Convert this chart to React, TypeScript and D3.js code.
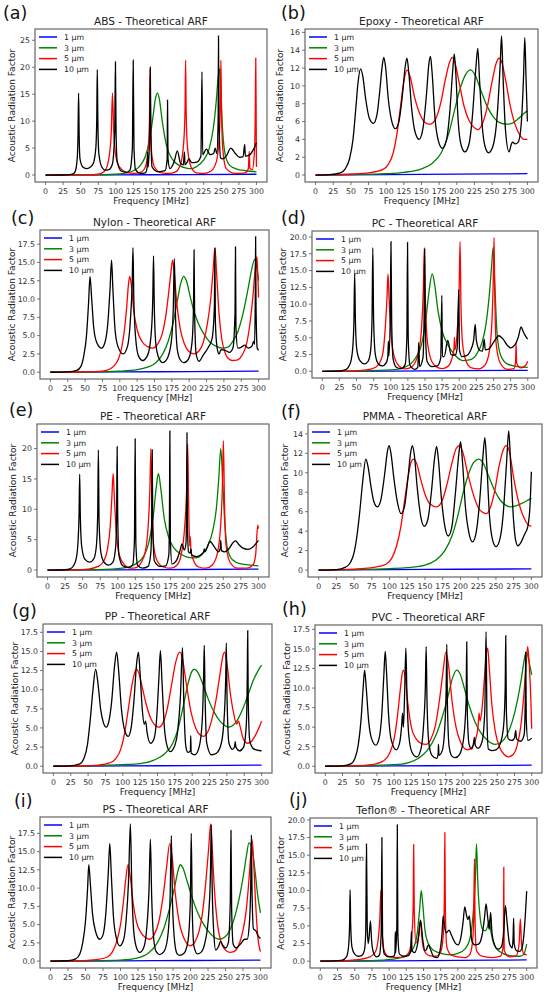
import React from "react";
import * as d3 from "d3";

// Shared ticks / legend
const xTicks = [0, 25, 50, 75, 100, 125, 150, 175, 200, 225, 250, 275, 300];
const seriesLabels = ["1 µm", "3 µm", "5 µm", "10 µm"];
const seriesColors = ["#0000ff", "#008000", "#ff0000", "#000000"];

const yTicksA = [0, 5, 10, 15, 20, 25];
const yTicksB = [0, 2, 4, 6, 8, 10, 12, 14, 16];
const yTicksC = [0, 2.5, 5, 7.5, 10, 12.5, 15, 17.5];
const yTicksD = [0, 2.5, 5, 7.5, 10, 12.5, 15, 17.5, 20];
const yTicksE = [0, 5, 10, 15, 20];
const yTicksF = [0, 2, 4, 6, 8, 10, 12, 14];

// (a) ABS  -- flat [freq, value, freq, value, ...]
const absBlue = [0, 0, 100, 0.03, 200, 0.08, 300, 0.15];
const absGreen = [0, 0, 80, 0.05, 100, 0.15, 115, 0.4, 125, 0.8, 135, 1.8, 142, 3.5, 148, 6.5, 153, 11, 156.5, 14.3, 159.4, 15.2, 162, 14, 166, 10, 172, 5.5, 180, 3, 190, 1.8, 200, 1.3, 208, 1.2, 215, 1.6, 225, 2.8, 233, 5, 239, 9, 243, 14, 245.8, 18.5, 247.5, 19.7, 249, 16, 252, 8, 256, 3.5, 262, 1.8, 272, 1.1, 285, 0.8, 300, 0.6];
const absRed = [0, 0, 60, 0.02, 75, 0.15, 83, 0.6, 88, 1.8, 91, 4, 93.5, 8, 95.2, 15.2, 97, 8, 100, 3.5, 105, 1.5, 115, 0.5, 125, 0.3, 135, 0.5, 142, 1.5, 146, 5, 147.8, 10, 148.6, 19.7, 149.4, 10, 151, 4, 155, 1.5, 165, 0.4, 175, 0.3, 185, 0.6, 192, 2, 196.5, 6, 198.4, 12, 199.2, 21.3, 200, 12, 202, 5, 207, 1.5, 215, 0.4, 225, 0.3, 235, 0.7, 243, 2.5, 247, 7, 248.6, 13, 249.4, 21.3, 250.2, 13, 252, 5, 257, 1.2, 270, 0.3, 284, 0.4, 288.5, 1.2, 289.7, 4.4, 290.7, 1.2, 294, 1, 297, 4, 298.2, 10, 299, 21.7, 299.7, 8, 300, 1.5];
const absBlack = [0, 0, 30, 0.02, 38, 0.15, 42, 0.6, 45, 3, 46.2, 7.5, 47, 15.2, 47.8, 7.5, 49, 3, 53, 1.5, 58, 1.2, 63, 1.4, 68, 2.2, 71.5, 5, 72.8, 10, 73.6, 19.6, 74.4, 10, 75.8, 4, 80, 1.5, 85, 0.9, 90, 1, 95, 2, 98.4, 8, 99.4, 21, 100.3, 8, 102, 2.5, 108, 0.7, 115, 0.5, 120, 0.9, 123.5, 5, 124.7, 21.3, 125.8, 5, 128, 1, 135, 0.3, 142, 0.4, 144.6, 1.5, 145.3, 4.2, 146, 1.5, 148.2, 8, 149, 20, 149.8, 8, 151.5, 1.5, 160, 0.6, 170, 0.8, 173, 3, 173.5, 13.9, 174.2, 3, 177, 1.2, 183, 2.5, 187.5, 4.5, 192, 2.2, 196, 1.9, 197.6, 4.3, 198.3, 1.9, 201, 2.3, 204, 3.0, 208, 2.3, 215, 2.4, 221, 3.5, 222.5, 19.2, 223.5, 3.8, 228.8, 4.8, 234, 3.8, 239, 4, 241.4, 5, 243.5, 4, 245.5, 10, 246, 25.8, 246.7, 10, 249, 3.2, 252, 3, 257, 3.5, 263.4, 5.0, 270, 4.0, 276, 3.3, 281, 3.4, 283.3, 5.7, 284.2, 3.5, 290, 3.7, 296, 4.8, 300, 6.0];

// (b) Epoxy
const epoxyBlue = [0, 0, 100, 0.05, 200, 0.1, 300, 0.15];
const epoxyGreen = [0, 0, 50, 0.05, 100, 0.15, 125, 0.3, 150, 0.7, 165, 1.3, 178, 2.5, 188, 4.5, 196, 7, 204, 9.5, 212, 11.2, 219.4, 11.8, 226, 11.2, 234, 9.5, 243, 7.7, 252, 6.5, 260, 5.9, 270, 5.7, 278, 5.8, 287, 6.3, 295, 6.9, 300, 7.2];
const epoxyRed = [0, 0, 25, 0.05, 50, 0.12, 75, 0.25, 95, 0.6, 103, 1.2, 110, 2.5, 115, 4.5, 120, 7.5, 125, 10.5, 129.4, 11.8, 134, 11, 140, 8.8, 148, 6.8, 155, 5.9, 162, 5.7, 170, 6.3, 177, 8, 184, 10.8, 190, 12.7, 193.6, 13.2, 197, 12.7, 203, 10.5, 210, 7.8, 218, 6, 225, 5.3, 229.7, 5.1, 236, 5.7, 243, 7.6, 250, 10.5, 256, 12.6, 260, 13.1, 264, 12.6, 267, 11.5, 268.6, 10.9, 270, 10.3, 275, 8, 282, 5.8, 290, 4.4, 295, 4.0, 300, 4.0];
const epoxyBlack = [0, 0, 20, 0.05, 35, 0.25, 42, 0.7, 48, 1.8, 53, 4, 57, 7.5, 60, 10.3, 63.8, 11.9, 67, 11, 71, 8.5, 76, 6.4, 82, 5.8, 87, 6.8, 91, 9.5, 94, 12, 96.6, 13.2, 99, 12.2, 103, 8.5, 108, 6, 113, 5.2, 118, 6, 123, 9, 127, 12.2, 129.4, 13.1, 132, 11.5, 136, 7.5, 141, 4.8, 146.7, 4.0, 152, 5.2, 157, 9, 160.5, 12.5, 162.7, 13.3, 165, 11.5, 169, 6.5, 174, 3.8, 179.5, 3.0, 185, 3.8, 190, 7, 194, 11.5, 196.4, 13.6, 198.5, 11.5, 202, 6, 206, 3.4, 211.4, 2.6, 217, 3.4, 222, 6.5, 227, 12, 229.7, 14.2, 232, 11, 236, 5.5, 240, 3.2, 245, 2.5, 251, 3.2, 257, 6.5, 261.5, 12.5, 263.4, 15.6, 265.5, 11, 269, 5, 274, 2.6, 277, 3.4, 279, 3.7, 282.7, 3.5, 287, 3.7, 291, 5.5, 294.5, 11, 296.3, 15.4, 298, 11, 300, 6];

// (c) Nylon
const nylonBlue = [0, 0, 100, 0.04, 200, 0.09, 300, 0.15];
const nylonGreen = [0, 0, 50, 0.03, 100, 0.15, 125, 0.35, 140, 0.7, 152, 1.3, 162, 2.5, 170, 4.3, 177, 6.8, 183, 9.8, 188, 12.2, 191.9, 13.1, 196, 12.5, 201, 10.5, 207, 8.3, 214, 6.5, 222, 5.1, 230, 4.1, 240, 3.5, 248, 3.3, 255, 3.4, 262, 4.1, 270, 5.5, 278, 8.2, 285, 11.5, 290, 14, 294.3, 15.4, 297, 14.5, 300, 12.5];
const nylonRed = [0, 0, 40, 0.03, 60, 0.08, 75, 0.15, 85, 0.4, 92, 0.9, 98, 1.8, 103, 3.5, 107, 6, 110, 9, 112.5, 12, 114.3, 13.1, 116.5, 12, 120, 8.5, 125, 5.8, 132, 4.2, 140, 3.5, 147.6, 3.3, 155, 3.9, 161, 5.2, 166, 7.5, 170, 10.5, 173.5, 13.5, 176, 15.3, 178.5, 13.5, 182, 9.5, 187, 6, 193, 3.9, 200, 2.8, 207, 2.5, 214, 2.9, 220, 4, 226, 6.5, 231, 10, 234.5, 14, 237.1, 17, 239.5, 13.5, 243, 8, 247, 4.5, 252, 2.6, 256, 1.9, 262, 1.6, 270, 1.7, 276, 2.3, 283, 4, 288, 7, 292, 10.5, 295, 14, 297.6, 15.8, 299, 13, 300, 10.2];
const nylonBlack = [0, 0, 25, 0.05, 38, 0.25, 44, 0.8, 48, 2.2, 52, 5, 55, 9.5, 57.1, 13.1, 59.5, 10, 62.5, 6, 67, 4, 73.8, 3.3, 79, 4.2, 83, 7, 86, 11.5, 88.1, 15.3, 90, 11.5, 93, 6, 97, 3.6, 104.8, 2.5, 111, 3.5, 115.5, 7.5, 117.8, 12, 119, 17, 120.2, 10, 123, 4.5, 127, 2.2, 133, 1.6, 140, 2.3, 145, 5, 147.5, 10, 148.6, 15.9, 149.7, 9, 152, 3.8, 156, 2, 162, 1.3, 168, 1.8, 174, 4, 177, 8.5, 178.6, 15.5, 180.2, 8, 183, 3, 187, 1.7, 192, 1.3, 199, 1.8, 204, 4, 206.2, 9, 207, 16.7, 207.8, 8, 210, 2.5, 214, 1.5, 220, 2.3, 227, 3.3, 233, 4.6, 236.3, 9, 237, 16.9, 237.7, 7, 240, 3.5, 243, 2.5, 246, 3.1, 252, 3, 258, 2.7, 263, 3.3, 266, 8, 266.7, 17.1, 267.4, 6, 270, 3.3, 275, 3.4, 280, 3.7, 285, 3.3, 290, 3.5, 292.9, 4.2, 294.2, 3.8, 295.2, 10, 295.7, 18.5, 296.3, 9, 298, 3.3, 300, 3.0];

// (d) PC
const pcBlue = [0, 0, 100, 0.04, 200, 0.09, 300, 0.15];
const pcGreen = [0, 0, 60, 0.05, 100, 0.2, 120, 0.6, 135, 1.8, 145, 4, 151, 7.5, 156, 12, 160.6, 14.5, 164, 13, 169, 9, 175, 6, 183, 4, 193, 2.5, 205, 1.6, 215, 1.7, 225, 2.5, 233, 4.2, 239, 7, 244, 11.5, 247.5, 16, 249.4, 18.4, 251.5, 14, 255, 6, 260, 2.5, 270, 1.1, 285, 0.7, 300, 0.6];
const pcRed = [0, 0, 40, 0.03, 65, 0.2, 78, 0.6, 85, 1.5, 89, 3, 92, 6.5, 94.5, 11, 96, 14.5, 97.5, 11, 100.5, 5.5, 105, 2.2, 112, 0.8, 120, 0.35, 128, 0.5, 135, 1.2, 141, 3, 145, 6.5, 147.5, 12, 149, 18.4, 150.5, 11, 153, 5, 158, 2, 166, 0.7, 175, 0.4, 183, 0.7, 189, 1.8, 192.4, 3.5, 193, 5.1, 193.8, 3.2, 197, 6, 199.8, 12, 201.2, 19.3, 202.5, 10, 205, 4, 210, 1.5, 218, 0.5, 228, 0.35, 238, 1, 244, 3, 248, 8, 249.8, 14, 250.8, 19.9, 251.8, 12, 254, 4, 260, 1.2, 270, 0.3, 280, 0.4, 282.3, 1.5, 283, 4.2, 283.8, 1.2, 290, 0.5, 297, 0.9, 300, 1.5];
const pcBlack = [0, 0, 25, 0.05, 33, 0.2, 38, 0.6, 42, 1.6, 44.5, 3.5, 46.2, 7.5, 47.3, 14.5, 48.4, 7.5, 50.5, 3.2, 55, 1.6, 61.8, 1.1, 67, 1.5, 70.5, 3, 72.6, 7.5, 73.8, 18.4, 75, 7.5, 77.5, 2.5, 82, 1.1, 88, 0.8, 94, 1.4, 95.8, 2.3, 96.5, 4.5, 97.2, 2.3, 99.2, 7.5, 100.3, 19.3, 101.4, 7, 103.5, 1.8, 108, 0.6, 115, 0.4, 121, 1, 123.5, 5, 124.5, 19.2, 125.5, 5, 128, 0.9, 135, 0.3, 139.5, 0.6, 140.9, 4.3, 142, 0.7, 147, 2, 148.7, 8, 149.5, 18.2, 150.4, 7, 153, 1.5, 160, 0.7, 168, 0.8, 173, 2, 174.6, 11.3, 175.4, 2.2, 178, 2.2, 183.3, 4.6, 188, 2.5, 194, 2.4, 197, 3.5, 199.3, 12.2, 200.3, 3.2, 204, 2.2, 210, 2.3, 216, 3, 221, 4.6, 223.3, 7.0, 225, 4.6, 230, 3.1, 234, 3, 236.4, 4.8, 238, 3.2, 243, 3.3, 250, 4.3, 258, 5.3, 264, 4.8, 270, 3.9, 275, 3.5, 281, 3.9, 286, 5, 290.4, 6.6, 293, 6, 297, 5.2, 300, 4.8];

// (e) PE
const peBlue = [0, 0, 100, 0.04, 200, 0.09, 300, 0.15];
const peGreen = [0, 0, 60, 0.05, 100, 0.25, 120, 0.7, 135, 2, 144, 4.5, 150, 8.5, 154.5, 13.5, 157.7, 15.9, 161, 13.5, 166, 8.5, 172, 5.5, 180, 3.6, 190, 2.6, 200, 2.1, 210, 2.0, 220, 2.6, 228, 4, 235, 6.5, 240, 10, 243.5, 15, 246.4, 20, 249, 15, 252, 8, 256, 3.5, 263, 1.7, 275, 1, 290, 0.8, 300, 0.7];
const peRed = [0, 0, 40, 0.03, 60, 0.2, 72, 0.6, 80, 1.5, 85, 3.3, 89, 7, 91.5, 12, 93.3, 15.9, 95, 12, 98, 6, 102, 2.5, 110, 0.8, 118, 0.3, 126, 0.4, 133, 1.2, 139, 3, 143, 7, 145.5, 13, 147, 20, 148.5, 11, 151, 4, 156, 1.5, 165, 0.5, 175, 0.3, 184, 0.8, 190, 2.5, 195, 7, 197.8, 13, 199.3, 20.8, 200.8, 10, 202.2, 4, 203, 5.5, 204, 3, 208, 1.5, 215, 0.5, 225, 0.3, 234, 0.8, 241, 2.5, 246, 7, 248.5, 13, 250.1, 21.3, 251.7, 11, 254, 4, 260, 1.2, 270, 0.3, 283, 0.3, 292, 0.8, 296, 2.5, 299, 7.4, 300, 6.8];
const peBlack = [0, 0, 25, 0.05, 32, 0.2, 37, 0.7, 41, 2, 43.5, 5, 44.8, 9, 45.7, 15.8, 46.6, 9, 48.5, 4, 53, 1.8, 60, 1.3, 66, 1.9, 69.5, 4, 71.3, 9, 72.3, 19.8, 73.3, 8, 76, 2.8, 81, 1.2, 87, 0.8, 93, 1.3, 97, 4, 98.3, 10, 99, 20.3, 99.8, 9, 101.5, 2.5, 107, 0.7, 115, 0.4, 121, 0.8, 123.6, 5, 124.6, 21.6, 125.6, 4.5, 128, 0.8, 135, 0.3, 143, 0.6, 147, 3, 148.2, 9, 148.9, 19.8, 149.6, 8, 152, 1.5, 160, 0.6, 168, 0.7, 172.5, 2.5, 173.4, 9, 174, 22.9, 174.7, 5, 177, 1, 183, 1.5, 188, 3, 191.3, 4.3, 194.5, 3.3, 197, 4.5, 197.8, 12, 198.3, 22.6, 198.9, 8, 200.5, 3, 203, 2.8, 204, 3.5, 205, 2.5, 212, 2.2, 218, 2.5, 222, 3, 223, 3.5, 224, 3, 231, 4.7, 238, 3.7, 243, 3, 245.6, 3.5, 246.4, 4.9, 247.3, 3.2, 252, 3, 258, 3.5, 263, 4.4, 267.4, 4.8, 272, 4.2, 278, 3.6, 285, 3.4, 292, 3.8, 300, 4.9];

// (f) PMMA
const pmmaBlue = [0, 0, 100, 0.04, 200, 0.08, 300, 0.12];
const pmmaGreen = [0, 0, 50, 0.05, 100, 0.15, 125, 0.25, 150, 0.5, 165, 1.0, 178, 2, 188, 3.5, 196, 5.5, 204, 8, 212, 10, 219, 11.1, 225.9, 11.4, 232, 11, 240, 9.6, 248, 8.2, 256, 7.2, 263, 6.7, 270, 6.5, 278, 6.6, 285, 6.8, 293, 7.1, 300, 7.4];
const pmmaRed = [0, 0, 30, 0.05, 60, 0.15, 80, 0.3, 95, 0.6, 103, 1.2, 110, 2.5, 116, 4.5, 121, 7, 126, 9.5, 130, 11, 133.6, 11.4, 138, 11, 144, 9.3, 150, 7.8, 157, 6.8, 166.4, 6.5, 174, 7.1, 181, 8.8, 188, 11, 194, 12.5, 198.3, 12.8, 203, 12.2, 210, 10, 218, 7.8, 226, 6.3, 232, 5.9, 236.7, 5.8, 242, 6.4, 248, 8, 254, 10.5, 260, 12.3, 264.8, 12.8, 269, 12.2, 275, 9.5, 282, 7, 290, 5.3, 295, 4.7, 300, 4.5];
const pmmaBlack = [0, 0, 25, 0.05, 38, 0.3, 45, 0.8, 50, 1.8, 54, 3.5, 58, 6, 62, 9, 66.6, 11.4, 70, 10.5, 74, 8.5, 78, 7, 83, 6.5, 88, 7.3, 93, 9.8, 97, 12.2, 99.4, 12.8, 102, 12, 106, 9.5, 111, 7, 116.3, 5.8, 121, 6.5, 126, 9.5, 130, 12.2, 132.2, 12.8, 135, 11.8, 139, 8.5, 144, 5.5, 149, 4.5, 154, 5.2, 159, 8, 163.5, 11.5, 166.4, 12.7, 169, 11.3, 173, 7.5, 178, 4.5, 182.8, 3.5, 188, 4.5, 193, 8, 197.5, 11.8, 200.2, 13.2, 203, 11, 207, 6.5, 212, 3.8, 217, 2.9, 222, 3.8, 227, 7, 231.5, 11.5, 234.4, 13.6, 237, 11, 241, 5.5, 245, 3.2, 250, 2.4, 255, 3, 260, 5.5, 265, 11, 268.1, 14.3, 271, 10.5, 275, 5, 278, 3, 281, 2.5, 285, 2.8, 290, 3.6, 295, 4.5, 298, 6.5, 300, 10.1];

// (g) PP
const ppBlue = [0, 0, 100, 0.04, 200, 0.09, 300, 0.14];
const ppGreen = [0, 0, 50, 0.05, 100, 0.2, 125, 0.35, 145, 0.8, 160, 1.6, 172, 3, 180, 5, 187, 7.8, 194, 10.8, 199, 12.3, 203.2, 12.7, 208, 12.3, 215, 10.8, 223, 8.8, 232, 7, 240, 5.9, 246, 5.4, 251.6, 5.1, 258, 5.3, 265, 6, 272, 7.3, 280, 9.2, 288, 11.2, 295, 12.5, 300, 13.2];
const ppRed = [0, 0, 40, 0.03, 65, 0.15, 80, 0.4, 90, 1.0, 97, 2.2, 103, 4.5, 108, 7.5, 113, 10.5, 117, 12.2, 119.6, 12.7, 123, 12.2, 128, 10.3, 134, 8, 140, 6.3, 146, 5.4, 151.9, 5.1, 158, 5.7, 164, 7.5, 170, 10.5, 176, 13.5, 180, 14.7, 182.8, 14.9, 186, 14, 192, 10.5, 198, 7.2, 205, 5, 211, 4.1, 216, 3.9, 222, 4.4, 228, 6, 234, 8.5, 240, 12, 244, 14.3, 246.8, 14.9, 250, 13.5, 255, 9.5, 260, 6.8, 264, 5.5, 266.8, 5.9, 269, 5.2, 274, 3.5, 280, 3.0, 286, 3.3, 292, 4.2, 297, 5.2, 300, 5.9];
const ppBlack = [0, 0, 25, 0.05, 38, 0.3, 44, 1, 49, 2.8, 53, 6, 57, 10, 60.8, 12.7, 64, 11, 68, 7.5, 72, 5.7, 76, 5.1, 80, 5.9, 84, 8.5, 88, 13, 91.1, 14.9, 94, 12.5, 98, 7.5, 103, 4.6, 107.7, 3.9, 112, 5, 116, 8.5, 120, 13.5, 122.5, 14.9, 125, 12, 128, 7.5, 131, 5.5, 132.9, 5.9, 135, 4.4, 140, 3.0, 145, 3.6, 149, 6.5, 152, 11.5, 154.2, 15.1, 156.5, 11, 160, 5, 164, 2.6, 168.5, 1.9, 174, 2.5, 179, 4.5, 183, 9, 186, 15.5, 188, 8, 191, 2.5, 194, 1.8, 197.4, 2, 197.9, 4.0, 198.5, 1.7, 204, 1.5, 210, 2.5, 214.5, 6, 216.5, 12, 217.4, 15.8, 218.4, 10, 221, 3, 227.8, 1.5, 235, 1.7, 242, 3, 246.5, 7, 248.4, 12, 249.2, 16.1, 250.2, 9, 253, 3, 258, 2.2, 261, 2.5, 262, 3.2, 263, 2.5, 268, 2.0, 274, 2.5, 278, 5.5, 279.4, 12, 280, 17.7, 280.7, 9, 283, 3.3, 288, 2.3, 294, 2.1, 300, 2.0];

// (h) PVC
const pvcBlue = [0, 0, 100, 0.04, 200, 0.09, 300, 0.14];
const pvcGreen = [0, 0, 50, 0.05, 100, 0.2, 120, 0.45, 135, 1, 148, 2, 160, 3.8, 170, 6.3, 178, 8.8, 185, 11.3, 191.1, 12.3, 196, 11.8, 202, 10, 209, 7.8, 217, 5.8, 226, 4.3, 236, 3.3, 246.8, 2.8, 256, 3.1, 264, 4, 272, 5.8, 279, 8.3, 285, 11.2, 289, 13.5, 291.8, 14.6, 294, 14.3, 297, 13, 300, 11.7];
const pvcRed = [0, 0, 40, 0.05, 70, 0.25, 85, 0.7, 93, 1.6, 100, 3.5, 105, 6.5, 109, 9.8, 111.5, 11.7, 113.7, 12.3, 116, 11.5, 120, 8, 125, 5, 132, 3.5, 140, 2.9, 146.6, 2.8, 153, 3.4, 160, 5.2, 166, 8.5, 171, 12, 175.2, 14.6, 179, 13, 184, 8.5, 190, 5, 197, 3, 206.6, 2.1, 214, 2.5, 219, 3.6, 222, 5, 223.5, 6.8, 225, 5.8, 228, 7.5, 231.5, 11.5, 234, 14.3, 236.1, 15.1, 238, 13, 242, 8, 247, 4.5, 254, 2.3, 260, 1.5, 266, 1.2, 273, 1.5, 279, 2.7, 284, 5, 288, 8.5, 291.5, 12.5, 294.2, 15.3, 296.5, 13, 299, 8, 300, 4.8];
const pvcBlack = [0, 0, 25, 0.05, 37, 0.3, 43, 1, 48, 2.8, 52, 6, 55, 10, 57.1, 12.3, 59.5, 10, 63, 5.8, 67, 3.6, 73.5, 2.7, 78, 3.5, 82, 6.5, 85, 11.5, 87.1, 14.7, 89, 12, 92, 6.5, 96, 3.3, 103, 2.1, 108, 3, 110.8, 5, 112.3, 6.8, 113.5, 5, 115.5, 10, 117.1, 15.1, 118.7, 9, 121.5, 3.8, 126, 1.8, 133, 1.2, 139, 2.2, 143, 5.5, 145.4, 10, 146.6, 15.3, 147.8, 8.5, 150.5, 3, 155, 1.4, 162, 1.0, 164, 1.6, 164.5, 2.8, 165.2, 1.4, 170, 2, 174, 5.5, 175.7, 10, 176.6, 15.6, 177.5, 8, 180, 2.5, 184, 1.3, 188.7, 1.1, 195, 1.5, 201, 3.5, 204.7, 8.5, 205.6, 15.9, 206.4, 7, 209, 2.8, 212.9, 2.2, 215.5, 3, 216.8, 3.7, 218, 2.7, 222, 2.3, 228, 3.2, 231.8, 7, 233.7, 17.2, 235, 6, 237, 2.2, 242, 2, 248, 2.1, 254, 2.8, 259, 5, 261.5, 10, 262.3, 16.7, 263.2, 7, 266, 3.5, 271, 3.3, 275, 3.6, 276.8, 4.6, 278, 3.5, 284, 3.2, 289, 4, 290.6, 8, 291.3, 14.6, 292.1, 6, 294.5, 3.3, 300, 3.6];

// (i) PS
const psBlue = [0, 0, 100, 0.04, 200, 0.09, 300, 0.14];
const psGreen = [0, 0, 50, 0.05, 100, 0.15, 125, 0.45, 140, 1.1, 152, 2.4, 162, 4.5, 170, 7.2, 177, 10, 182, 12.3, 185.5, 13.2, 189, 12.8, 195, 11, 202, 8.8, 210, 6.7, 219, 5, 228, 3.8, 235, 3.2, 241.6, 3.0, 249, 3.3, 256, 4.2, 263, 6, 270, 8.8, 276, 12, 280, 14.5, 283.5, 16.2, 287, 15.8, 292, 12.5, 296, 9, 300, 6.6];
const psRed = [0, 0, 40, 0.03, 65, 0.2, 80, 0.5, 88, 1.2, 95, 2.8, 100, 5, 104, 8, 107.5, 11.2, 110.8, 13.2, 114, 11.5, 118, 8, 123, 5.3, 130, 3.8, 136, 3.2, 141.8, 3.0, 148, 3.6, 155, 5.5, 161, 9, 166, 13, 170.3, 16.1, 174, 14, 178, 9.5, 183, 5.8, 189, 3.5, 195, 2.4, 199.7, 2.1, 206, 2.6, 212, 4, 217, 6.5, 222, 11, 226, 15.5, 228.8, 18.8, 231, 15.5, 234, 10, 238, 5.5, 243, 2.8, 249, 1.6, 256, 1.2, 262, 1.3, 268, 2, 274, 3.8, 279, 6.5, 283, 10.5, 286, 14.5, 287.9, 16.7, 290, 14, 293, 8, 296, 3.5, 300, 1.3];
const psBlack = [0, 0, 25, 0.05, 36, 0.3, 42, 1, 46, 2.5, 50, 5.5, 53, 10, 54.7, 13.2, 57, 10.5, 60, 6.5, 64, 4.2, 70.4, 3.0, 75, 3.6, 79, 6.5, 82.5, 12, 84.7, 16.1, 86.8, 12, 90, 6, 94, 3.2, 98.9, 2.1, 104, 2.8, 108, 5.5, 111.5, 11, 114.1, 18.8, 116.2, 10, 119, 4, 123, 1.8, 127.4, 1.2, 133, 1.8, 137.5, 4.5, 140.8, 10, 142.7, 16.7, 144.5, 9, 147.5, 3, 151, 1.3, 156, 0.9, 162, 1.3, 167, 3, 170.8, 8.5, 172.6, 17.2, 174.3, 8, 177.5, 2.5, 181, 1, 184.5, 0.8, 190, 1, 196, 2.5, 199.7, 8, 201.1, 17.5, 202.5, 7, 205, 2, 210, 1, 215, 1.2, 221, 2.7, 226, 6.5, 228.5, 12, 229.7, 18.7, 231, 10, 233.5, 3.5, 236, 1.5, 240, 2, 243, 2.7, 246, 2.2, 250, 1.8, 254, 2.5, 256.8, 8, 257.8, 17.9, 258.8, 7, 261, 2.3, 265, 1.8, 271, 2.3, 277.4, 3.0, 281, 3, 284, 5, 286, 10, 286.9, 17.3, 288, 9, 290, 4.4, 293, 4.2, 297, 3.4, 300, 3.1];

// (j) Teflon
const teflonBlue = [0, 0, 100, 0.05, 200, 0.11, 300, 0.18];
const teflonGreen = [0, 0, 50, 0.03, 90, 0.15, 110, 0.35, 125, 0.8, 135, 1.8, 141, 4, 144.5, 7.5, 146.7, 10, 149, 8, 152, 4.5, 157, 2.5, 165, 1.5, 180, 1.0, 190, 0.9, 200, 1.1, 210, 1.7, 217, 3, 222, 6.5, 225.5, 12, 227, 16.6, 229, 11, 232, 6.5, 236, 4.5, 240, 4.3, 244, 5.2, 245.5, 5.8, 247.5, 4.5, 252, 2.5, 260, 1.4, 275, 0.8, 290, 0.7, 296, 1, 300, 2.4];
const teflonRed = [0, 0, 30, 0.02, 45, 0.15, 60, 0.3, 72, 0.6, 80, 1.3, 84, 3, 86.5, 6, 88.1, 10.1, 89.5, 5, 92, 1.8, 98, 0.7, 110, 0.5, 122, 0.6, 129, 1.3, 133, 3.5, 135, 8, 135.7, 16.5, 136.6, 7, 139, 2.6, 143, 3.5, 145.7, 5.8, 147.5, 3.5, 151, 1.5, 158, 0.8, 168, 0.7, 175, 1.3, 179, 4, 180.3, 9, 181, 18.2, 181.8, 7, 184, 2, 190, 0.9, 200, 0.6, 210, 0.5, 217, 0.9, 221, 2.5, 223, 6, 224, 14.5, 225, 5.5, 227, 1.5, 235, 0.7, 250, 0.5, 262, 0.7, 266.2, 2.5, 266.7, 13.3, 267.3, 1.5, 275, 0.6, 285, 0.8, 289, 2.5, 290.8, 6.0, 292.5, 2.5, 296, 1, 300, 0.9];
const teflonBlack = [0, 0, 20, 0.03, 32, 0.15, 38, 0.6, 41, 2, 42.5, 5, 43.3, 10.1, 44.2, 5, 46, 2, 50, 1, 55, 0.7, 60, 0.8, 64, 1.5, 66, 4, 67.1, 16.6, 68.2, 5, 69.5, 2.5, 71, 3.5, 72.9, 5.7, 74.5, 3, 77, 1.3, 82, 0.6, 86, 0.9, 88.5, 4, 89.5, 17.5, 90.5, 3.5, 93, 1, 100, 0.6, 107, 0.7, 108.5, 1.2, 109, 4.2, 109.6, 1.2, 111.2, 5, 111.9, 19.3, 112.7, 4, 115, 1, 122, 0.7, 128, 0.8, 131.5, 1.5, 132.4, 4.2, 133.3, 1.5, 137, 1.2, 142, 2.8, 145.7, 5.8, 149, 3, 152, 1.5, 154, 1.6, 157, 2.3, 160, 1.7, 165, 0.6, 170, 0.5, 174, 1.5, 177, 4, 178.6, 6.4, 180.5, 5, 183.3, 4, 187, 4.4, 191, 3.6, 196, 2.6, 200, 2.3, 204, 3.2, 207.5, 5.5, 210, 7.7, 212.5, 6.5, 214.3, 5.9, 216.7, 6.4, 218.5, 4.5, 220.5, 2.8, 225, 2.3, 230, 2.4, 235, 3.6, 238.5, 6, 241, 8.1, 243.5, 6, 245.5, 4.5, 247.6, 6.9, 249.5, 4, 253, 2.4, 258, 1.7, 263, 2, 266.5, 4, 269, 7.9, 271.5, 5.5, 275, 2.5, 279, 1.9, 280.3, 3.5, 281, 6.1, 281.8, 2.5, 285, 1.5, 290, 1.4, 294, 2.2, 297, 5, 300, 9.9];

const panels = [
  { tag: "(a)", title: "ABS - Theoretical ARF", series: [absBlue, absGreen, absRed, absBlack], yTicks: yTicksA },
  { tag: "(b)", title: "Epoxy - Theoretical ARF", series: [epoxyBlue, epoxyGreen, epoxyRed, epoxyBlack], yTicks: yTicksB },
  { tag: "(c)", title: "Nylon - Theoretical ARF", series: [nylonBlue, nylonGreen, nylonRed, nylonBlack], yTicks: yTicksC },
  { tag: "(d)", title: "PC - Theoretical ARF", series: [pcBlue, pcGreen, pcRed, pcBlack], yTicks: yTicksD },
  { tag: "(e)", title: "PE - Theoretical ARF", series: [peBlue, peGreen, peRed, peBlack], yTicks: yTicksE },
  { tag: "(f)", title: "PMMA - Theoretical ARF", series: [pmmaBlue, pmmaGreen, pmmaRed, pmmaBlack], yTicks: yTicksF },
  { tag: "(g)", title: "PP - Theoretical ARF", series: [ppBlue, ppGreen, ppRed, ppBlack], yTicks: yTicksC },
  { tag: "(h)", title: "PVC - Theoretical ARF", series: [pvcBlue, pvcGreen, pvcRed, pvcBlack], yTicks: yTicksC },
  { tag: "(i)", title: "PS - Theoretical ARF", series: [psBlue, psGreen, psRed, psBlack], yTicks: yTicksC },
  { tag: "(j)", title: "Teflon® - Theoretical ARF", series: [teflonBlue, teflonGreen, teflonRed, teflonBlack], yTicks: yTicksD },
];

// axes boxes [left, top, right, bottom], panel tag position, y-label x
const boxes = [
  [35, 29, 267, 182], [305, 29, 538, 182],
  [40, 230, 269, 379], [312, 231, 538, 378],
  [37, 424, 269, 577], [308, 424, 542, 577],
  [43, 624, 272, 773], [315, 625, 542, 773],
  [40, 817, 271, 968], [310, 818, 537, 968],
];
const tagPos = [
  [3, 19], [281, 19], [11, 224], [281, 224], [9, 416],
  [281, 418], [12, 617], [282, 615], [14, 807], [289, 806],
];
const yLabelX = [12, 280, 12, 283, 13, 285, 15, 287, 12, 281];

const FONT = "DejaVu Sans, sans-serif";

const toPairs = (flat: number[]): [number, number][] =>
  d3.range(0, flat.length, 2).map((i) => [flat[i], flat[i + 1]] as [number, number]);

function Panel({ p, i }: { p: (typeof panels)[number]; i: number }) {
  const [l, t, r, b] = boxes[i];
  const data = p.series.map(toPairs);
  const maxV = d3.max(data.flat(), (d) => d[1]) || 1;

  const x = d3.scaleLinear().domain([-15, 315]).range([l, r]);
  const y = d3.scaleLinear().domain([-0.05 * maxV, 1.05 * maxV]).range([b, t]);
  const line = d3
    .line<[number, number]>()
    .x((d) => x(d[0]))
    .y((d) => y(d[1]))
    .curve(d3.curveMonotoneX);

  const stepIsInt = p.yTicks.every((v) => Number.isInteger(v));
  const fmt = stepIsInt ? d3.format("d") : d3.format(".1f");
  const clipId = `clip-${i}`;

  return (
    <g fontFamily={FONT}>
      <defs>
        <clipPath id={clipId}>
          <rect x={l} y={t} width={r - l} height={b - t} />
        </clipPath>
      </defs>
      <text x={tagPos[i][0]} y={tagPos[i][1]} fontSize={17.5} fill="#111">
        {p.tag}
      </text>
      <text x={(l + r) / 2} y={t - 4} fontSize={10.5} textAnchor="middle" fill="#222">
        {p.title}
      </text>
      <g clipPath={`url(#${clipId})`}>
        {data.map((d, k) => (
          <path key={k} d={line(d) || ""} fill="none" stroke={seriesColors[k]} strokeWidth={1.3} />
        ))}
      </g>
      <rect x={l} y={t} width={r - l} height={b - t} fill="none" stroke="#666" strokeWidth={1.2} />
      {xTicks.map((v) => (
        <g key={`x${v}`}>
          <line x1={x(v)} x2={x(v)} y1={b} y2={b + 3} stroke="#555" strokeWidth={0.8} />
          <text x={x(v)} y={b + 11.5} fontSize={7.8} textAnchor="middle" fill="#333">
            {v}
          </text>
        </g>
      ))}
      {p.yTicks.map((v) => (
        <g key={`y${v}`}>
          <line x1={l - 3} x2={l} y1={y(v)} y2={y(v)} stroke="#555" strokeWidth={0.8} />
          <text x={l - 5} y={y(v) + 2.8} fontSize={7.8} textAnchor="end" fill="#333">
            {fmt(v)}
          </text>
        </g>
      ))}
      <text x={(l + r) / 2} y={b + 21.5} fontSize={9} textAnchor="middle" fill="#222">
        Frequency [MHz]
      </text>
      <text
        transform={`translate(${yLabelX[i] + 3},${(t + b) / 2}) rotate(-90)`}
        fontSize={9}
        textAnchor="middle"
        fill="#222"
      >
        Acoustic Radiation Factor
      </text>
      <g>
        {seriesLabels.map((s, k) => (
          <g key={s}>
            <line
              x1={l + 4}
              x2={l + 22}
              y1={t + 8 + k * 10.8}
              y2={t + 8 + k * 10.8}
              stroke={seriesColors[k]}
              strokeWidth={1.5}
            />
            <text x={l + 29} y={t + 10.8 + k * 10.8} fontSize={7.8} fill="#222">
              {s}
            </text>
          </g>
        ))}
      </g>
    </g>
  );
}

export default function App() {
  return (
    <svg
      width={550}
      height={995}
      style={{ position: "absolute", left: 0, top: 0, background: "#fff" }}
    >
      <rect width={550} height={995} fill="#fff" />
      {panels.map((p, i) => (
        <Panel key={p.tag} p={p} i={i} />
      ))}
    </svg>
  );
}
